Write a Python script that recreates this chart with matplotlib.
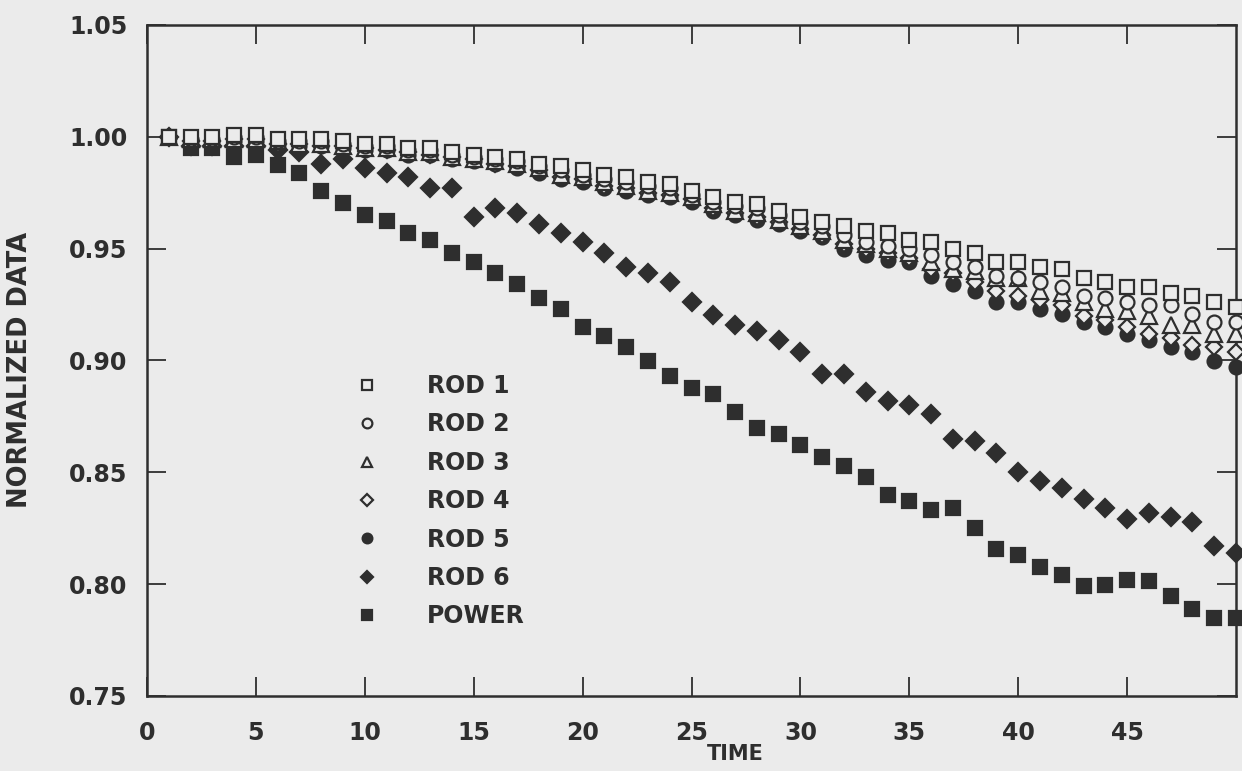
import numpy as np
import matplotlib
matplotlib.use("Agg")
import matplotlib.pyplot as plt

# data, one reading per time unit
time = list(range(1, 51))

rod1 = [1.000, 1.000, 1.000, 1.001, 1.001, 0.999, 0.999, 0.999, 0.998, 0.997,
        0.997, 0.995, 0.995, 0.993, 0.992, 0.991, 0.990, 0.988, 0.987, 0.985,
        0.983, 0.982, 0.980, 0.979, 0.976, 0.973, 0.971, 0.970, 0.967, 0.964,
        0.962, 0.960, 0.958, 0.957, 0.954, 0.953, 0.950, 0.948, 0.944, 0.944,
        0.942, 0.941, 0.937, 0.935, 0.933, 0.933, 0.930, 0.929, 0.926, 0.924]
rod2 = [1.000, 0.999, 0.999, 1.000, 1.000, 0.998, 0.998, 0.998, 0.997, 0.996,
        0.996, 0.994, 0.994, 0.992, 0.991, 0.990, 0.989, 0.987, 0.985, 0.983,
        0.981, 0.980, 0.978, 0.977, 0.974, 0.971, 0.969, 0.968, 0.965, 0.962,
        0.960, 0.956, 0.953, 0.951, 0.950, 0.947, 0.944, 0.942, 0.938, 0.937,
        0.935, 0.933, 0.929, 0.928, 0.926, 0.925, 0.925, 0.921, 0.917, 0.917]
rod3 = [1.000, 0.999, 0.999, 0.999, 0.999, 0.998, 0.997, 0.997, 0.996, 0.995,
        0.995, 0.993, 0.993, 0.991, 0.990, 0.989, 0.988, 0.986, 0.983, 0.982,
        0.980, 0.978, 0.976, 0.975, 0.973, 0.970, 0.967, 0.966, 0.963, 0.960,
        0.958, 0.954, 0.952, 0.950, 0.948, 0.944, 0.941, 0.940, 0.937, 0.937,
        0.931, 0.930, 0.926, 0.923, 0.922, 0.920, 0.916, 0.916, 0.912, 0.912]
rod4 = [1.000, 0.998, 0.998, 0.999, 0.999, 0.997, 0.997, 0.996, 0.996, 0.995,
        0.994, 0.993, 0.992, 0.991, 0.990, 0.988, 0.987, 0.985, 0.982, 0.981,
        0.978, 0.977, 0.975, 0.974, 0.972, 0.968, 0.966, 0.964, 0.962, 0.959,
        0.956, 0.952, 0.950, 0.948, 0.946, 0.941, 0.939, 0.935, 0.931, 0.929,
        0.927, 0.925, 0.920, 0.918, 0.915, 0.912, 0.910, 0.907, 0.906, 0.904]
rod5 = [1.000, 0.998, 0.998, 0.998, 0.998, 0.997, 0.996, 0.996, 0.995, 0.994,
        0.994, 0.992, 0.992, 0.990, 0.989, 0.988, 0.986, 0.984, 0.981, 0.980,
        0.977, 0.976, 0.974, 0.973, 0.971, 0.967, 0.965, 0.963, 0.961, 0.958,
        0.955, 0.950, 0.947, 0.945, 0.944, 0.938, 0.934, 0.931, 0.926, 0.926,
        0.923, 0.921, 0.917, 0.915, 0.912, 0.909, 0.906, 0.904, 0.900, 0.897]
rod6 = [1.000, 0.996, 0.996, 0.996, 0.996, 0.994, 0.993, 0.988, 0.990, 0.986,
        0.984, 0.982, 0.977, 0.977, 0.964, 0.968, 0.966, 0.961, 0.957, 0.953,
        0.948, 0.942, 0.939, 0.935, 0.926, 0.9205, 0.916, 0.913, 0.909, 0.904,
        0.894, 0.894, 0.886, 0.882, 0.880, 0.876, 0.865, 0.864, 0.8585, 0.850,
        0.846, 0.843, 0.838, 0.834, 0.829, 0.832, 0.830, 0.828, 0.817, 0.814]
power = [1.000, 0.995, 0.995, 0.991, 0.992, 0.9875, 0.984, 0.976, 0.9705, 0.965,
         0.9625, 0.957, 0.954, 0.948, 0.944, 0.939, 0.934, 0.928, 0.923, 0.915,
         0.911, 0.906, 0.900, 0.893, 0.8875, 0.885, 0.877, 0.870, 0.867, 0.862,
         0.857, 0.853, 0.848, 0.840, 0.837, 0.833, 0.834, 0.825, 0.8156, 0.813,
         0.8076, 0.804, 0.799, 0.7996, 0.802, 0.8013, 0.7946, 0.789, 0.785, 0.785]

labels = ["ROD 1", "ROD 2", "ROD 3", "ROD 4", "ROD 5", "ROD 6", "POWER"]

bg = "#ebebeb"
ink = "#2e2e2e"
plt.rcParams["font.family"] = ["DejaVu Sans"]
plt.rcParams["font.weight"] = "bold"

fig = plt.figure(figsize=(12.42, 7.71), dpi=100, facecolor=bg)
ax = fig.add_axes([147 / 1242, 1 - 696 / 771, 1089 / 1242, 671 / 771])
ax.set_facecolor(bg)

series = [rod1, rod2, rod3, rod4, rod5, rod6, power]
# marker, size, filled, zorder
styles = [("s", 10, False, 7), ("o", 10, False, 6), ("^", 11, False, 5),
          ("D", 8.5, False, 4), ("o", 10, True, 3), ("D", 9, True, 2),
          ("s", 10, True, 1)]

for vals, lab, (mk, ms, filled, z) in zip(series, labels, styles):
    ax.plot(time, vals, linestyle="none", marker=mk, markersize=ms,
            markeredgecolor=ink, markerfacecolor=ink if filled else bg,
            markeredgewidth=1.6, label=lab, zorder=z, clip_on=False)

ax.set_xlim(0, 50)
ax.set_ylim(0.75, 1.05)
ax.set_xticks(np.arange(0, 50, 5))
ax.set_yticks(np.arange(0.75, 1.051, 0.05))
ax.yaxis.set_major_formatter(matplotlib.ticker.FormatStrFormatter("%.2f"))

ax.tick_params(axis="both", direction="in", length=14, width=1.3,
               colors=ink, labelsize=17, top=True, right=True)
ax.tick_params(axis="x", pad=18)
ax.tick_params(axis="y", pad=14)
for s in ax.spines.values():
    s.set_color(ink)
    s.set_linewidth(1.8)

ax.set_xlabel("TIME", fontsize=15, fontweight="bold", color=ink)
ax.xaxis.set_label_coords(0.54, -0.072)
ax.set_ylabel("NORMALIZED DATA", fontsize=18.5, fontweight="bold", color=ink)
ax.yaxis.set_label_coords(-0.1047, 0.486)

leg = ax.legend(loc="upper left", bbox_to_anchor=(0.191, 0.4798), frameon=False,
                fontsize=17, handlelength=1.0, handletextpad=2.04,
                labelspacing=0.61, borderpad=0, borderaxespad=0,
                markerscale=0.7, labelcolor=ink)

fig.savefig("out.png", dpi=100, facecolor=bg)
